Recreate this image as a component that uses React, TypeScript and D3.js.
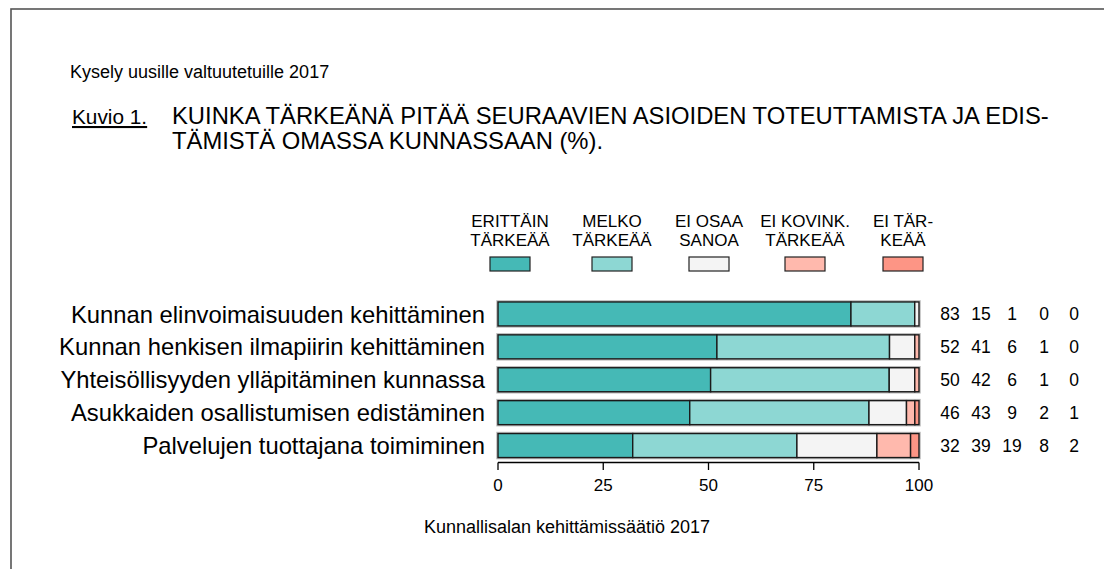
import React from "react";
import * as d3 from "d3";

const categories = [
  "Kunnan elinvoimaisuuden kehittäminen",
  "Kunnan henkisen ilmapiirin kehittäminen",
  "Yhteisöllisyyden ylläpitäminen kunnassa",
  "Asukkaiden osallistumisen edistäminen",
  "Palvelujen tuottajana toimiminen",
];
const seriesKeys = ["erittain", "melko", "eiosaa", "eikovink", "eitark"];
const seriesLabels = [
  ["ERITTÄIN", "TÄRKEÄÄ"],
  ["MELKO", "TÄRKEÄÄ"],
  ["EI OSAA", "SANOA"],
  ["EI KOVINK.", "TÄRKEÄÄ"],
  ["EI TÄR-", "KEÄÄ"],
];
const seriesColors = ["#45b9b6", "#8dd7d3", "#f4f4f4", "#ffb9ad", "#fd9585"];
const erittain = [83, 52, 50, 46, 32];
const melko = [15, 41, 42, 43, 39];
const eiOsaa = [1, 6, 6, 9, 19];
const eiKovink = [0, 1, 1, 2, 8];
const eiTark = [0, 0, 0, 1, 2];
const xTicks = [0, 25, 50, 75, 100];

const W = 1104;
const H = 569;
const FONT = "'Liberation Sans', Arial, Helvetica, sans-serif";

export default function App() {
  const series = [erittain, melko, eiOsaa, eiKovink, eiTark];
  const rows = categories.map((c, i) => {
    const vals = series.map((s) => s[i]);
    const total = d3.sum(vals);
    return { cat: c, vals, norm: vals.map((v) => (v / total) * 100) };
  });
  const stacked = rows.map((r) => {
    const cum = d3.cumsum(r.norm);
    return r.norm.map((v, j) => ({ x0: cum[j] - v, x1: cum[j], key: seriesKeys[j] }));
  });

  const x = d3.scaleLinear().domain([0, 100]).range([498, 919]);
  const y = d3
    .scaleBand<string>()
    .domain(categories)
    .range([297.5, 462])
    .paddingInner(0.27)
    .paddingOuter(0.135);
  const bh = y.bandwidth();

  const legendX = [510, 612, 709, 805, 903];
  const valueX = [950, 981, 1012, 1044, 1074];
  const axisY = 462.5;

  return (
    <svg
      width={W}
      height={H}
      style={{ position: "absolute", left: 0, top: 0, background: "#fff" }}
      fontFamily={FONT}
    >
      <rect x={11} y={9} width={W + 20} height={H + 20} fill="#fff" stroke="#555" strokeWidth={1.6} />
      <text x={70} y={78} fontSize={18} fill="#000">
        Kysely uusille valtuutetuille 2017
      </text>
      <text x={72} y={124} fontSize={20.8} fill="#000" textDecoration="underline">
        Kuvio 1.
      </text>
      <text x={172} y={124} fontSize={23.8} fill="#000">
        KUINKA TÄRKEÄNÄ PITÄÄ SEURAAVIEN ASIOIDEN TOTEUTTAMISTA JA EDIS-
      </text>
      <text x={172} y={149} fontSize={23.8} fill="#000">
        TÄMISTÄ OMASSA KUNNASSAAN (%).
      </text>

      {seriesLabels.map((lab, j) => (
        <g key={seriesKeys[j]}>
          <text x={legendX[j]} y={227} fontSize={17} textAnchor="middle" fill="#000">
            {lab[0]}
          </text>
          <text x={legendX[j]} y={246} fontSize={17} textAnchor="middle" fill="#000">
            {lab[1]}
          </text>
          <rect
            x={legendX[j] - 20}
            y={257}
            width={40}
            height={14}
            fill={seriesColors[j]}
            stroke="#222"
            strokeWidth={1.2}
          />
        </g>
      ))}

      {rows.map((r, i) => {
        const y0 = y(r.cat) as number;
        return (
          <g key={r.cat}>
            <rect x={x(0) - 1} y={y0 - 1} width={x(100) - x(0) + 2} height={bh + 2} fill="none" stroke="#bbb" strokeWidth={1.5} />
            {stacked[i].map((s, j) =>
              s.x1 - s.x0 > 0 ? (
                <rect
                  key={s.key}
                  x={x(s.x0)}
                  y={y0}
                  width={x(s.x1) - x(s.x0)}
                  height={bh}
                  fill={seriesColors[j]}
                  stroke="#1a1a1a"
                  strokeWidth={1.4}
                />
              ) : null
            )}
            <text x={485} y={y0 + bh / 2} dy="0.36em" fontSize={23.8} textAnchor="end" fill="#000">
              {r.cat}
            </text>
            {r.vals.map((v, j) => (
              <text key={j} x={valueX[j]} y={y0 + bh / 2} dy="0.36em" fontSize={17.5} textAnchor="middle" fill="#000">
                {v}
              </text>
            ))}
          </g>
        );
      })}

      <line x1={x(0)} x2={x(100)} y1={axisY} y2={axisY} stroke="#000" strokeWidth={1.3} />
      {xTicks.map((t) => (
        <g key={t}>
          <line x1={x(t)} x2={x(t)} y1={axisY} y2={470} stroke="#000" strokeWidth={1.3} />
          <text x={x(t)} y={491} fontSize={17} textAnchor="middle" fill="#000">
            {t}
          </text>
        </g>
      ))}

      <text x={567} y={533} fontSize={18} textAnchor="middle" fill="#000">
        Kunnallisalan kehittämissäätiö 2017
      </text>
    </svg>
  );
}
